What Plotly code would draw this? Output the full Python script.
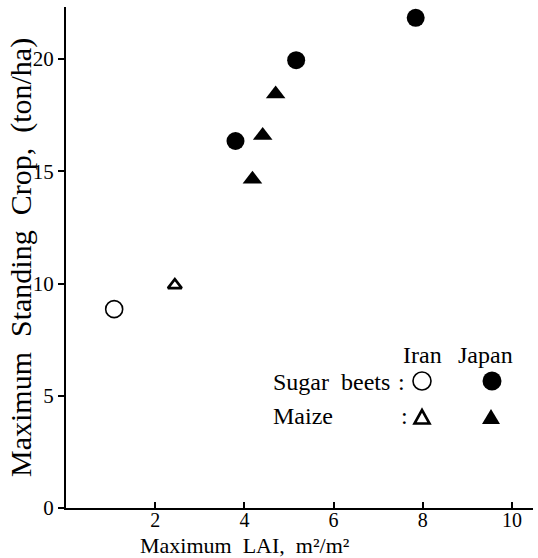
import plotly.graph_objects as go

# Data
iran_beet_lai = [1.08]
iran_beet_crop = [8.86]
iran_maize_lai = [2.44]
iran_maize_crop = [9.93]
japan_beet_lai = [3.80, 5.16, 7.84]
japan_beet_crop = [16.35, 19.95, 21.84]
japan_maize_lai = [4.18, 4.41, 4.70]
japan_maize_crop = [14.65, 16.6, 18.44]

x_ticks = [2, 4, 6, 8, 10]
y_ticks = [0, 5, 10, 15, 20]

W, H = 538, 558
ML, MR, MT, MB = 66, 5, 7, 50
PW = W - ML - MR
PH = H - MT - MB

def px(x):
    return (x - ML) / PW

def py(y):
    return (H - MB - y) / PH

FONT = "Liberation Serif"
fig = go.Figure()

fig.add_trace(go.Scatter(x=iran_beet_lai, y=iran_beet_crop, mode="markers",
                         marker=dict(symbol="circle-open", size=17, color="black",
                                     line=dict(width=1.6, color="black")),
                         name="Sugar beets (Iran)"))
fig.add_trace(go.Scatter(x=iran_maize_lai, y=iran_maize_crop, mode="markers",
                         marker=dict(symbol="triangle-up-open", size=12, color="black",
                                     line=dict(width=2.6, color="black")),
                         name="Maize (Iran)"))
fig.add_trace(go.Scatter(x=japan_beet_lai, y=japan_beet_crop, mode="markers",
                         marker=dict(symbol="circle", size=18, color="black"),
                         name="Sugar beets (Japan)"))
fig.add_trace(go.Scatter(x=japan_maize_lai, y=japan_maize_crop, mode="markers",
                         marker=dict(symbol="triangle-up", size=17, color="black"),
                         name="Maize (Japan)"))

annotations = [
    dict(text="Maximum\u00a0\u00a0LAI,\u00a0\u00a0m²/m²", x=px(245), y=py(545),
         xanchor="center", yanchor="middle", font=dict(size=22)),
    dict(text="Maximum\u00a0\u00a0Standing\u00a0\u00a0Crop,\u00a0\u00a0(ton/ha)", x=px(21), y=py(258),
         xanchor="center", yanchor="middle", textangle=-90, font=dict(size=30)),
    dict(text="Iran", x=px(422), y=py(355), xanchor="center", yanchor="middle", font=dict(size=24)),
    dict(text="Japan", x=px(485), y=py(355), xanchor="center", yanchor="middle", font=dict(size=24)),
    dict(text="Sugar\u00a0\u00a0beets", x=px(271), y=py(382), xanchor="left", yanchor="middle", font=dict(size=24)),
    dict(text=":", x=px(401), y=py(382), xanchor="center", yanchor="middle", font=dict(size=24)),
    dict(text="Maize", x=px(271), y=py(416), xanchor="left", yanchor="middle", font=dict(size=24)),
    dict(text=":", x=px(404), y=py(416), xanchor="center", yanchor="middle", font=dict(size=24)),
]
for a in annotations:
    a.update(xref="paper", yref="paper", showarrow=False)
    a["font"].update(family=FONT, color="black")

shapes = [
    dict(type="circle", xanchor=px(422), yanchor=py(381), x0=-9, x1=9, y0=-9, y1=9,
         line=dict(color="black", width=1.6), fillcolor="rgba(0,0,0,0)"),
    dict(type="circle", xanchor=px(492), yanchor=py(381), x0=-9.5, x1=9.5, y0=-9.5, y1=9.5,
         line=dict(color="black", width=0), fillcolor="black"),
    dict(type="path", xanchor=px(422), yanchor=py(417), path="M-7.5,-6.5 L7.5,-6.5 L0,7 Z",
         line=dict(color="black", width=2.6), fillcolor="rgba(0,0,0,0)"),
    dict(type="path", xanchor=px(491), yanchor=py(417), path="M-9,-7 L9,-7 L0,8 Z",
         line=dict(color="black", width=0), fillcolor="black"),
]
for s in shapes:
    s.update(xref="paper", yref="paper", xsizemode="pixel", ysizemode="pixel")

fig.update_layout(
    width=W, height=H,
    margin=dict(l=ML, r=MR, t=MT, b=MB, pad=0),
    paper_bgcolor="white", plot_bgcolor="white",
    showlegend=False,
    font=dict(family=FONT, color="black"),
    annotations=annotations,
    shapes=shapes,
    xaxis=dict(range=[0, 10.47], tickvals=x_ticks, ticks="inside", ticklen=6, tickwidth=2,
               tickcolor="black", showline=True, linecolor="black", linewidth=2,
               showgrid=False, zeroline=False, tickfont=dict(size=20, family=FONT),
               ticklabelstandoff=-7),
    yaxis=dict(range=[0, 22.32], tickvals=y_ticks, ticks="outside", ticklen=6, tickwidth=2,
               tickcolor="black", showline=True, linecolor="black", linewidth=2,
               showgrid=False, zeroline=False, tickfont=dict(size=21, family=FONT)),
)

fig.write_html("out.html")
